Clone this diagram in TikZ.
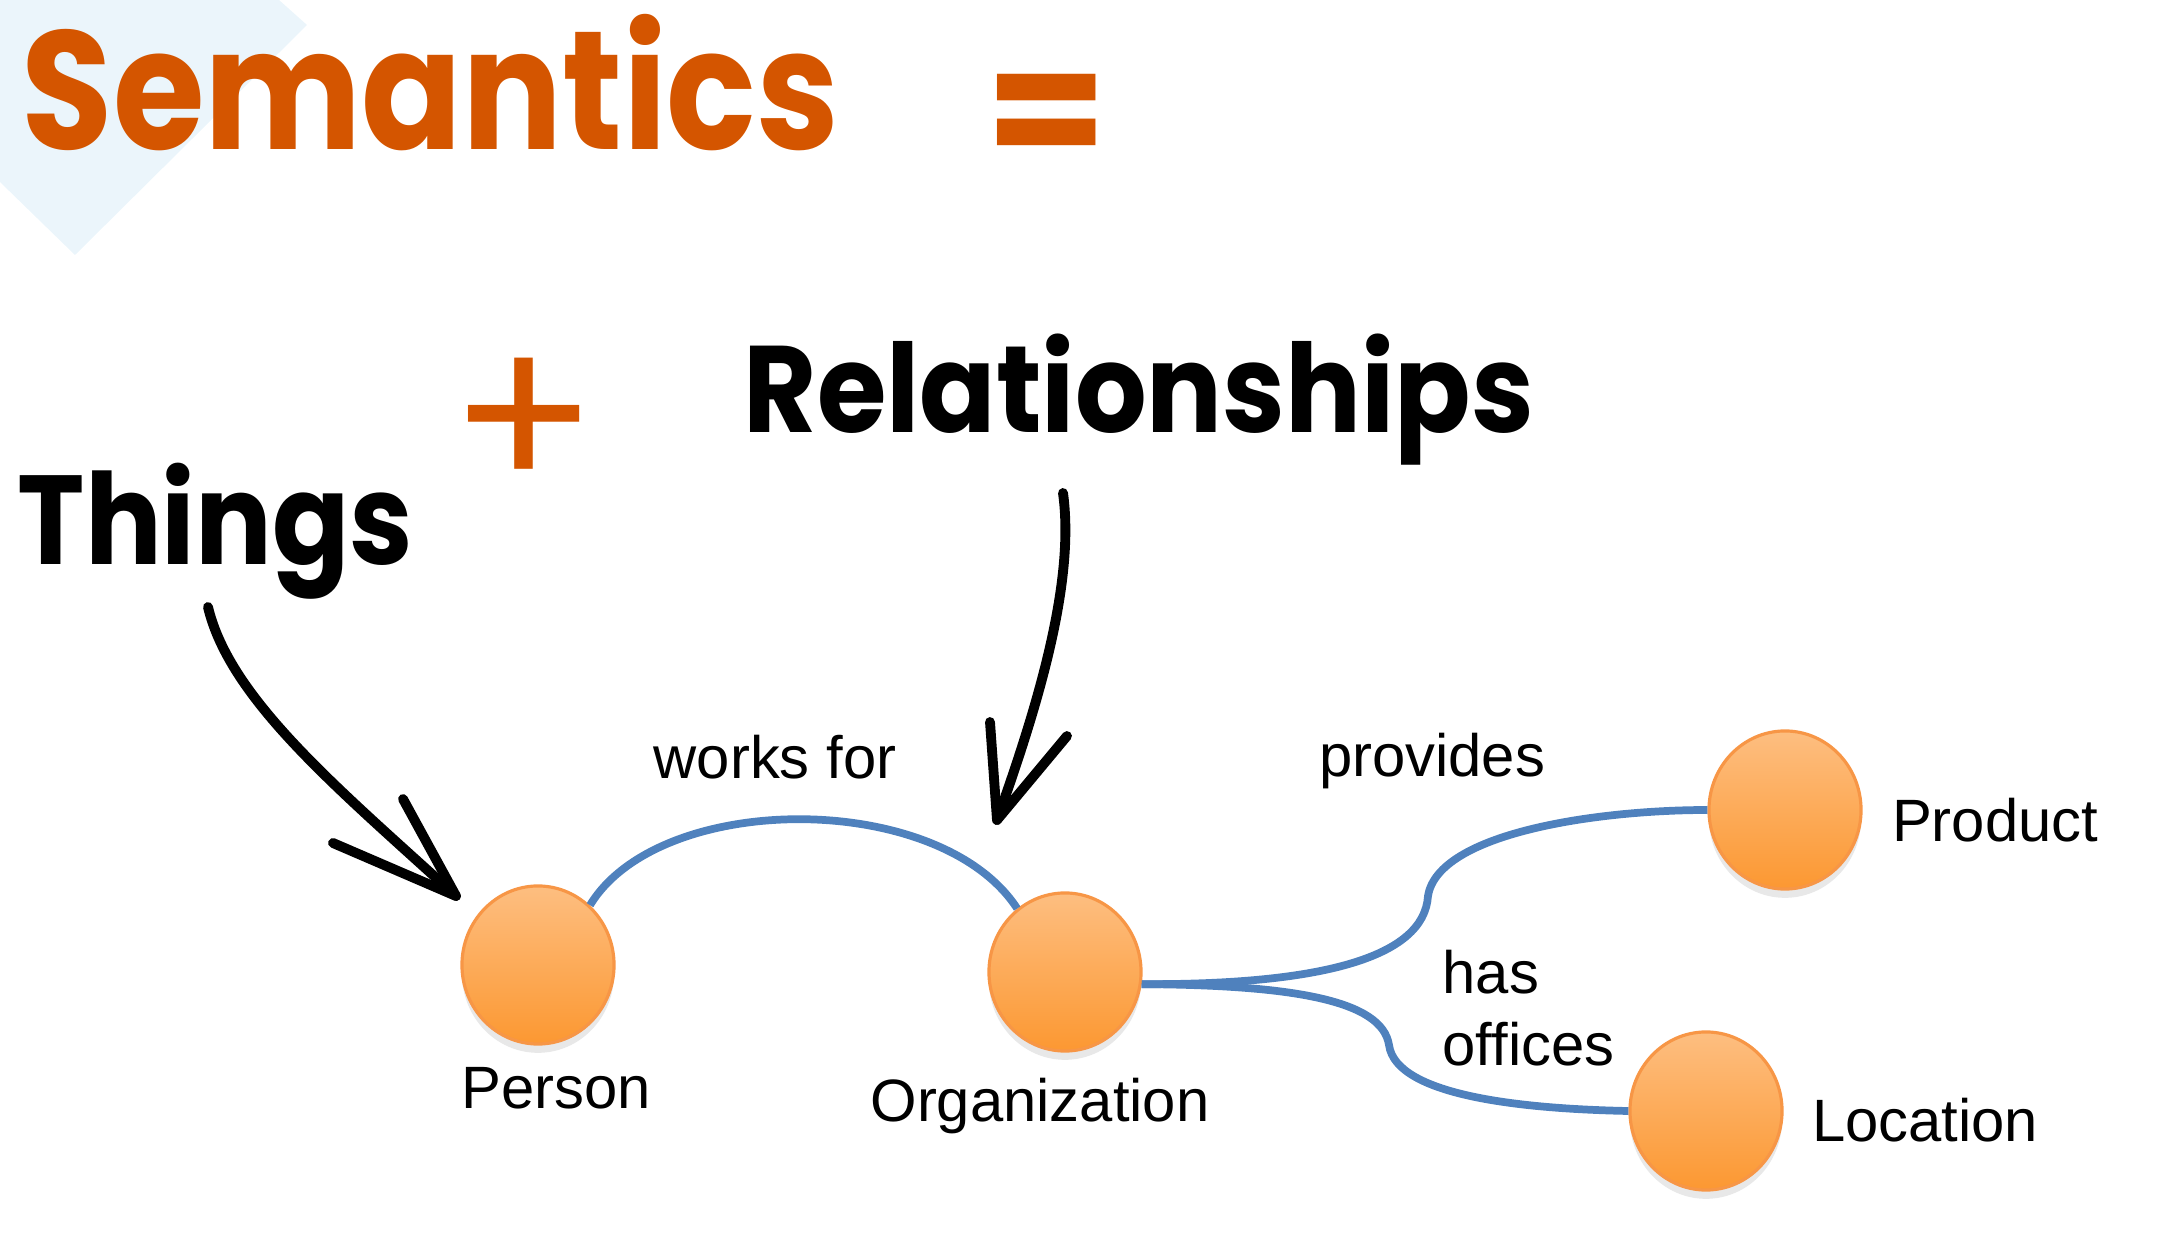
\documentclass[tikz,border=0pt]{standalone}
\usepackage{fontspec}
\setmainfont{Liberation Sans}
\newfontfamily\hand{Poppins}
\usetikzlibrary{arrows.meta,calc,positioning,shapes.geometric,shadows}
\definecolor{semO}{RGB}{212,85,0}
\definecolor{linkB}{RGB}{79,129,189}
\definecolor{ballT}{RGB}{253,190,128}
\definecolor{ballB}{RGB}{252,152,50}
\definecolor{ballE}{RGB}{247,150,70}
\definecolor{paleB}{RGB}{235,245,251}

\begin{document}
\begin{tikzpicture}[x=0.01cm,y=-0.01cm,
  ball/.style={ellipse,minimum width=1.52cm,minimum height=1.58cm,inner sep=0pt,
    top color=ballT,bottom color=ballB,draw=ballE,line width=0.9pt,
    drop shadow={opacity=0.18,shadow xshift=0pt,shadow yshift=-2.5pt}},
  lbl/.style={font=\fontsize{17}{20.5}\selectfont,inner sep=0pt,align=left},
  link/.style={linkB,line width=2.2pt},
  chalk/.style={line width=2.8pt,line cap=round,line join=round}]
\useasboundingbox (0,0) rectangle (2178,1234);
\fill[paleB] (0,0)--(279,0)--(307,25)--(75,255)--(0,182)--cycle;

% handwritten words
\node[semO,font=\hand\bfseries\fontsize{48}{56}\selectfont,anchor=base west,inner sep=0pt] (semantics) at (21,150) {\scalebox{0.88}[1]{Semantics}};
\node[semO,font=\hand\bfseries\fontsize{50}{50}\selectfont,inner sep=0pt] (eq) at (1047,123) {=};
\node[semO,font=\hand\fontsize{62}{62}\selectfont,inner sep=0pt] (plus) at (524,426) {+};
\node[font=\hand\bfseries\fontsize{36}{40}\selectfont,anchor=base west,inner sep=0pt] (things) at (17,565) {\scalebox{0.9}[1]{Things}};
\node[font=\hand\bfseries\fontsize{35}{40}\selectfont,anchor=base west,inner sep=0pt] (rels) at (743,433) {\scalebox{0.915}[1]{Relationships}};

% the graph
\node[ball] (person) at (538,965) {};
\node[ball] (org) at (1065,972) {};
\node[ball] (product) at (1785,810) {};
\node[ball] (location) at (1706,1111) {};

\node[lbl] (personL) at (556,1088) {Person};
\node[lbl] (orgL) at (1040,1106) {Organization};
\node[lbl] (productL) at (1995,820) {Product};
\node[lbl] (locationL) at (1925,1120) {Location};
\node[lbl] (worksL) at (775,757) {works for};
\node[lbl] (providesL) at (1432,761) {provides};
\node[lbl,anchor=west] (officesL) at (1442,1008) {has\\offices};

\draw[link] (person.49) .. controls (660,790) and (940,790) .. (org.127);
\draw[link] (org.-9) .. controls (1320,985) and (1424,958) .. (1428,896)
  .. controls (1438,833) and (1597,810) .. (product.west);
\draw[link] (org.-9) .. controls (1292,985) and (1382,1000) .. (1389,1045)
  .. controls (1396,1097) and (1528,1109) .. (location.west);

% pointers
\coordinate (thTail) at (208,607);
\coordinate (thTip) at (456,896);
\coordinate (relTail) at (1063,493);
\coordinate (relTip) at (997,820);
\draw[chalk] (thTail) .. controls (230,700) and (340,790) .. (thTip);
\draw[chalk] (333,843) -- (thTip) -- (403,799);
\draw[chalk] (relTail) .. controls (1075,580) and (1040,700) .. (relTip);
\draw[chalk] (990,722) -- (relTip) -- (1067,736);
\end{tikzpicture}
\end{document}
